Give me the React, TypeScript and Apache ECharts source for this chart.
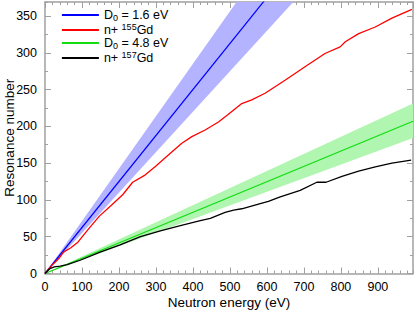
import React, { useEffect, useRef } from 'react';
import * as echarts from 'echarts';

// Measured staircase curves (neutron energy in eV, cumulative resonance number)
const redE = [0, 20, 37, 50, 70, 88, 115, 147, 178, 210, 237, 268, 300, 345, 370, 397, 433, 469, 495, 532, 559, 595, 650, 703, 757, 798, 812, 848, 893, 938, 992];
const redN = [0, 12, 20, 29, 35, 42, 59, 78, 92, 107, 124, 133, 146, 166, 177, 186, 195, 206, 216, 231, 236, 245, 263, 281, 299, 308, 315, 326, 335, 347, 359];

const blackE = [0, 8, 15, 25, 41, 60, 95, 149, 203, 258, 312, 366, 420, 447, 487, 510, 532, 582, 604, 636, 690, 735, 760, 803, 848, 893, 938, 990];
const blackN = [0, 4, 7, 9, 10, 12, 18, 29, 39, 50, 58, 65, 72, 75, 83, 86, 88, 95, 98, 104, 113, 124, 124, 132, 139, 145, 150, 154];

// Model lines (endpoints) and uncertainty bands
const modelE = [0, 995];
const blueCenter = [0, 622];
const blueUpper = [0, 709];
const blueLower = [0, 547];
const greenCenter = [0, 207];
const greenUpper = [0, 231];
const greenLower = [0, 184];

const xTicks = [0, 100, 200, 300, 400, 500, 600, 700, 800, 900];
const yTicks = [0, 50, 100, 150, 200, 250, 300, 350];

const names = ['D0 = 1.6 eV', 'n+155Gd', 'D0 = 4.8 eV', 'n+157Gd'];
const legendRich: Record<string, string> = {
  'D0 = 1.6 eV': '{n|D}{sub|0}{n| = 1.6 eV}',
  'n+155Gd': '{n|n+ }{sup|155}{n|Gd}',
  'D0 = 4.8 eV': '{n|D}{sub|0}{n| = 4.8 eV}',
  'n+157Gd': '{n|n+ }{sup|157}{n|Gd}',
};

const FONT = '"Liberation Sans", Arial, Helvetica, sans-serif';
const GRAY = '#a0a0a0';
const X_MAX = 995;
const Y_MAX = 369;

const pairs = (xs: number[], ys: number[]) => xs.map((x, i) => [x, ys[i]]);

// Sutherland-Hodgman clipping of a polygon against an axis-aligned rectangle
function clipPoly(pts: number[][], r: { x: number; y: number; width: number; height: number }) {
  const edges = [
    (p: number[]) => p[0] >= r.x,
    (p: number[]) => p[0] <= r.x + r.width,
    (p: number[]) => p[1] >= r.y,
    (p: number[]) => p[1] <= r.y + r.height,
  ];
  const inter = (a: number[], b: number[], k: number) => {
    let t = 0;
    if (k === 0) t = (r.x - a[0]) / (b[0] - a[0]);
    else if (k === 1) t = (r.x + r.width - a[0]) / (b[0] - a[0]);
    else if (k === 2) t = (r.y - a[1]) / (b[1] - a[1]);
    else t = (r.y + r.height - a[1]) / (b[1] - a[1]);
    return [a[0] + (b[0] - a[0]) * t, a[1] + (b[1] - a[1]) * t];
  };
  let out = pts;
  for (let k = 0; k < 4; k++) {
    const inp = out;
    out = [];
    if (!inp.length) break;
    for (let i = 0; i < inp.length; i++) {
      const cur = inp[i];
      const prev = inp[(i + inp.length - 1) % inp.length];
      const ci = edges[k](cur);
      const pi = edges[k](prev);
      if (ci) {
        if (!pi) out.push(inter(prev, cur, k));
        out.push(cur);
      } else if (pi) {
        out.push(inter(prev, cur, k));
      }
    }
  }
  return out;
}

export default function App() {
  const ref = useRef<HTMLDivElement>(null);
  useEffect(() => {
    const chart = echarts.init(ref.current!, null, { renderer: 'svg' });
    const xBase = (pos: string, interval: number, len: number, major: boolean, label: boolean) => ({
      type: 'value',
      position: pos,
      min: 0,
      max: X_MAX,
      interval,
      axisLine: { show: major, onZero: false, lineStyle: { color: GRAY, width: 1.5 } },
      axisTick: { show: true, inside: true, length: len, lineStyle: { color: GRAY, width: 1 } },
      splitLine: { show: false },
      axisLabel: label
        ? {
            show: true,
            showMaxLabel: false,
            margin: 7,
            color: '#000',
            fontSize: 12.5,
            fontFamily: FONT,
            formatter: (v: number) => (xTicks.includes(v) ? String(v) : ''),
          }
        : { show: false },
      ...(label
        ? {
            name: 'Neutron energy (eV)',
            nameLocation: 'middle',
            nameGap: 22,
            nameMoveOverlap: false,
            nameTextStyle: { color: '#000', fontSize: 13.5, fontFamily: FONT },
          }
        : {}),
    });
    const yBase = (pos: string, interval: number, len: number, major: boolean, label: boolean) => ({
      type: 'value',
      position: pos,
      min: 0,
      max: Y_MAX,
      interval,
      axisLine: { show: major, onZero: false, lineStyle: { color: GRAY, width: 1.5 } },
      axisTick: { show: true, inside: true, length: len, lineStyle: { color: GRAY, width: 1 } },
      splitLine: { show: false },
      axisLabel: label
        ? {
            show: true,
            showMaxLabel: false,
            margin: 8,
            color: '#000',
            fontSize: 12.5,
            fontFamily: FONT,
            formatter: (v: number) => (yTicks.includes(v) ? String(v) : ''),
          }
        : { show: false },
      ...(label
        ? {
            name: 'Resonance number',
            nameLocation: 'middle',
            nameGap: 29,
            nameMoveOverlap: false,
            nameTextStyle: { color: '#000', fontSize: 13.5, fontFamily: FONT },
          }
        : {}),
    });

    const band = (name: string, lower: number[], upper: number[], color: string) => ({
      type: 'custom',
      name,
      silent: true,
      z: 1,
      data: modelE.map((e, i) => [e, lower[i], upper[i]]),
      renderItem: (params: any, api: any) => {
        const i = params.dataIndex;
        if (i >= modelE.length - 1) return null;
        const a0 = api.coord([modelE[i], lower[i]]);
        const a1 = api.coord([modelE[i + 1], lower[i + 1]]);
        const b1 = api.coord([modelE[i + 1], upper[i + 1]]);
        const b0 = api.coord([modelE[i], upper[i]]);
        const cs = params.coordSys;
        const pts = clipPoly([a0, a1, b1, b0], { x: cs.x, y: cs.y, width: cs.width, height: cs.height });
        if (pts.length < 3) return null;
        return { type: 'polygon', shape: { points: pts }, style: { fill: color, stroke: 'none' } };
      },
    });

    const line = (name: string, xs: number[], ys: number[], color: string, width: number) => ({
      type: 'line',
      name,
      data: pairs(xs, ys),
      symbol: 'none',
      lineStyle: { color, width },
      itemStyle: { color },
      z: 3,
    });

    chart.setOption({
      animation: false,
      backgroundColor: '#fff',
      grid: { left: 45, right: 2, top: 2, bottom: 38.5, containLabel: false, outerBoundsMode: 'none' },
      xAxis: [
        xBase('bottom', 100, 6, true, true),
        xBase('bottom', 20, 3, false, false),
        xBase('top', 100, 6, true, false),
        xBase('top', 20, 3, false, false),
      ],
      yAxis: [
        yBase('left', 50, 6, true, true),
        yBase('left', 25, 3, false, false),
        yBase('right', 50, 6, true, false),
        yBase('right', 25, 3, false, false),
      ],
      legend: {
        data: names,
        orient: 'vertical',
        left: 61,
        top: 8.5,
        padding: 0,
        itemWidth: 37,
        itemHeight: 14,
        itemGap: 0,
        itemStyle: { opacity: 0 },
        lineStyle: { width: 1.8 },
        formatter: (n: string) => legendRich[n],
        textStyle: {
          color: '#000',
          fontSize: 12.5,
          fontFamily: FONT,
          rich: {
            n: { fontSize: 12.5, lineHeight: 15, fontFamily: FONT, color: '#000' },
            sub: { fontSize: 9, lineHeight: 6, verticalAlign: 'bottom', fontFamily: FONT, color: '#000' },
            sup: { fontSize: 9, lineHeight: 6, verticalAlign: 'top', fontFamily: FONT, color: '#000' },
          },
        },
      },
      series: [
        band('blueBand', blueLower, blueUpper, '#b3b3ff'),
        band('greenBand', greenLower, greenUpper, '#b0f5b0'),
        line(names[0], modelE, blueCenter, '#0000ff', 1.2),
        line(names[2], modelE, greenCenter, '#11dd11', 1.2),
        line(names[1], redE, redN, '#ff0000', 1.3),
        line(names[3], blackE, blackN, '#000000', 1.3),
      ],
    });
    return () => chart.dispose();
  }, []);
  return <div ref={ref} style={{ position: 'fixed', left: 0, top: 0, width: 415, height: 312 }} />;
}
